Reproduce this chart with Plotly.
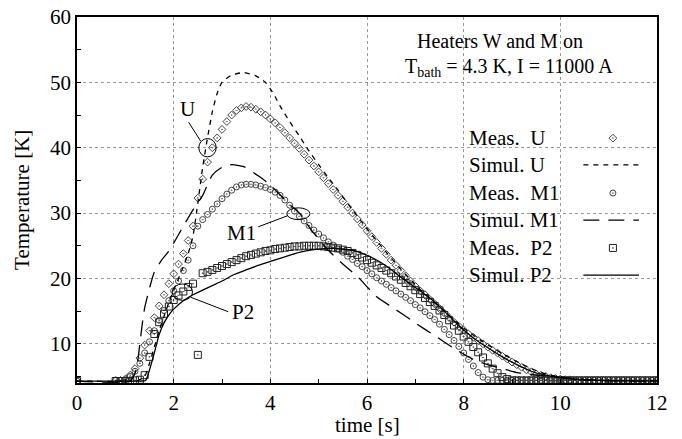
import plotly.graph_objects as go

# measured data (sampled every 0.1 s after the heater fires, plus t = 0)
t_meas = [0,
          0.8, 0.9, 1.0, 1.1, 1.2, 1.3, 1.4, 1.5, 1.6, 1.7,
          1.8, 1.9, 2.0, 2.1, 2.2, 2.3, 2.4, 2.5, 2.6, 2.7,
          2.8, 2.9, 3.0, 3.1, 3.2, 3.3, 3.4, 3.5, 3.6, 3.7,
          3.8, 3.9, 4.0, 4.1, 4.2, 4.3, 4.4, 4.5, 4.6, 4.7,
          4.8, 4.9, 5.0, 5.1, 5.2, 5.3, 5.4, 5.5, 5.6, 5.7,
          5.8, 5.9, 6.0, 6.1, 6.2, 6.3, 6.4, 6.5, 6.6, 6.7,
          6.8, 6.9, 7.0, 7.1, 7.2, 7.3, 7.4, 7.5, 7.6, 7.7,
          7.8, 7.9, 8.0, 8.1, 8.2, 8.3, 8.4, 8.5, 8.6, 8.7,
          8.8, 8.9, 9.0, 9.1, 9.2, 9.3, 9.4, 9.5, 9.6, 9.7,
          9.8, 9.9, 10.0, 10.1, 10.2, 10.3, 10.4, 10.5, 10.6, 10.7,
          10.8, 10.9, 11.0, 11.1, 11.2, 11.3, 11.4, 11.5, 11.6, 11.7,
          11.8, 11.9, 12.0]

meas_u = [4.3,
          4.4, 4.4, 4.6, 5.2, 6.2, 7.8, 9.8, 12.0, 14.0, 15.8,
          17.5, 19.2, 20.7, 22.2, 23.8, 25.8, 28.0, 32.3, 35.2, 37.8,
          40.0, 41.5, 42.8, 44.0, 45.0, 45.7, 46.1, 46.3, 46.2, 45.9,
          45.5, 45.0, 44.4, 43.8, 43.1, 42.3, 41.5, 40.7, 39.9, 39.0,
          38.1, 37.2, 36.3, 35.4, 34.5, 33.6, 32.7, 31.8, 30.9, 30.0,
          29.1, 28.2, 27.3, 26.4, 25.5, 24.6, 23.7, 22.8, 22.0, 21.2,
          20.4, 19.6, 18.8, 18.1, 17.5, 16.8, 16.1, 15.4, 14.7, 14.0,
          13.3, 12.7, 12.1, 11.5, 11.0, 10.5, 10.0, 9.5, 9.0, 8.6,
          8.1, 7.7, 7.2, 6.8, 6.4, 6.0, 5.7, 5.4, 5.2, 5.0,
          4.8, 4.7, 4.6, 4.5, 4.5, 4.4, 4.4, 4.4, 4.4, 4.4,
          4.4, 4.4, 4.4, 4.4, 4.4, 4.4, 4.4, 4.4, 4.4, 4.4,
          4.4, 4.4, 4.4]

meas_m1 = [4.3,
           4.4, 4.4, 4.5, 5.0, 5.8, 7.0, 8.6, 10.3, 12.0, 13.6,
           15.1, 16.6, 18.1, 19.6, 21.2, 22.8, 25.0, 28.0, 29.0, 29.8,
           30.6, 31.4, 32.2, 32.9, 33.5, 34.0, 34.3, 34.4, 34.4, 34.3,
           34.1, 33.9, 33.6, 33.2, 32.7, 32.0, 31.2, 30.3, 29.5, 28.8,
           28.1, 27.4, 26.8, 26.2, 25.6, 25.1, 24.5, 24.0, 23.4, 22.9,
           22.3, 21.8, 21.2, 20.7, 20.1, 19.6, 19.1, 18.6, 18.1, 17.6,
           17.1, 16.6, 16.0, 15.5, 14.9, 14.3, 13.7, 13.0, 12.2, 11.4,
           10.5, 9.6, 8.6, 7.6, 6.6, 5.6, 4.9, 4.5, 4.4, 4.4,
           4.4, 4.4, 4.4, 4.4, 4.4, 4.4, 4.4, 4.4, 4.4, 4.4,
           4.4, 4.4, 4.4, 4.4, 4.4, 4.4, 4.4, 4.4, 4.4, 4.4,
           4.4, 4.4, 4.4, 4.4, 4.4, 4.4, 4.4, 4.4, 4.4, 4.4,
           4.4, 4.4, 4.4]

meas_p2 = [4.3,
           4.3, 4.3, 4.3, 4.3, 4.4, 4.5, 5.2, 8.0, 11.5, 13.3,
           14.6, 15.7, 16.7, 17.4, 18.0, 18.7, 19.2, 8.3, 20.8, 21.0,
           21.3, 21.6, 21.9, 22.2, 22.5, 22.8, 23.1, 23.4, 23.6, 23.8,
           24.0, 24.2, 24.3, 24.5, 24.6, 24.7, 24.8, 24.9, 24.9, 25.0,
           25.0, 25.0, 25.0, 24.9, 24.8, 24.7, 24.6, 24.4, 24.2, 23.9,
           23.6, 23.2, 22.8, 22.4, 22.0, 21.6, 21.2, 20.8, 20.3, 19.8,
           19.3, 18.8, 18.2, 17.6, 17.0, 16.4, 15.8, 15.1, 14.4, 13.6,
           12.8, 12.0, 11.1, 10.3, 9.5, 8.7, 7.9, 7.0, 6.2, 5.5,
           4.9, 4.6, 4.4, 4.4, 4.4, 4.4, 4.4, 4.4, 4.4, 4.4,
           4.4, 4.4, 4.4, 4.4, 4.4, 4.4, 4.4, 4.4, 4.4, 4.4,
           4.4, 4.4, 4.4, 4.4, 4.4, 4.4, 4.4, 4.4, 4.4, 4.4,
           4.4, 4.4, 4.4]

# simulations
t_sim_u = [0, 1.2, 1.3, 1.4, 1.5, 1.6, 1.7, 1.8, 1.9, 2.0,
           2.1, 2.2, 2.3, 2.4, 2.5, 2.6, 2.7, 2.8, 2.9, 3.0,
           3.2, 3.45, 3.7, 3.9, 4.0, 4.1, 4.2, 4.4, 4.6, 4.8,
           5.0, 5.2, 5.4, 5.7, 6.0, 6.4, 6.8, 7.2, 7.6, 8.0,
           8.4, 8.8, 9.2, 9.6, 10.0, 10.5, 11.0, 12.0]
sim_u = [4.3, 4.3, 4.5, 5.0, 7.0, 9.5, 12.0, 14.2, 16.3, 18.2,
         20.0, 21.8, 23.8, 26.5, 31.5, 37.0, 41.5, 45.5, 48.3, 50.0,
         51.1, 51.5, 51.0, 50.0, 49.0, 47.8, 46.4, 44.0, 41.8, 39.5,
         37.4, 35.4, 33.5, 30.5, 27.6, 24.0, 20.6, 17.6, 15.0, 12.4,
         10.3, 8.5, 6.9, 5.6, 4.9, 4.5, 4.35, 4.3]

t_sim_m1 = [0, 1.1, 1.2, 1.25, 1.3, 1.35, 1.4, 1.5, 1.6, 1.75,
            1.9, 2.0, 2.2, 2.4, 2.6, 2.8, 3.0, 3.2, 3.45, 3.75,
            4.0, 4.2, 4.4, 4.6, 4.85, 5.2, 5.5, 5.8, 6.2, 6.5,
            6.9, 7.2, 7.45, 7.8, 8.2, 8.5, 8.8, 9.1, 9.4, 9.7,
            10.0, 10.5, 11.0, 12.0]
sim_m1 = [4.3, 4.3, 5.5, 7.0, 10.0, 13.0, 15.5, 18.5, 21.0, 22.8,
          24.2, 25.4, 28.0, 30.5, 32.7, 35.8, 37.0, 37.4, 37.1, 35.7,
          34.3, 32.8, 31.3, 30.0, 27.4, 24.3, 22.2, 20.3, 17.2, 15.7,
          13.7, 12.2, 11.0, 9.3, 7.6, 6.8, 6.2, 5.6, 5.3, 5.1,
          4.9, 4.5, 4.35, 4.3]

t_sim_p2 = [0, 1.3, 1.42, 1.5, 1.6, 1.7, 1.8, 1.9, 2.0, 2.2,
            2.4, 2.6, 2.8, 3.0, 3.25, 3.5, 3.75, 4.0, 4.3, 4.6,
            4.9, 5.2, 5.5, 5.8, 6.1, 6.4, 6.7, 7.0, 7.3, 7.6,
            7.9, 8.2, 8.5, 8.8, 9.1, 9.4, 9.7, 10.0, 10.5, 11.0,
            12.0]
sim_p2 = [4.3, 4.3, 4.4, 6.0, 8.6, 11.4, 13.2, 14.4, 15.3, 16.6,
          17.5, 18.2, 18.9, 19.6, 20.6, 21.3, 22.0, 22.6, 23.3, 24.0,
          24.4, 24.6, 24.5, 24.1, 23.2, 21.9, 20.2, 18.6, 17.0, 15.0,
          12.8, 10.9, 9.4, 8.0, 6.8, 5.8, 5.2, 4.8, 4.5, 4.35,
          4.3]

legend_labels = ["Meas.\u00a0 U", "Simul. U", "Meas.\u00a0 M1",
                 "Simul. M1", "Meas.\u00a0 P2", "Simul. P2"]

FONT = "Liberation Serif"
FS = 21
marker_styles = {
    "U": dict(symbol="diamond-open-dot", size=6, color="#444", line=dict(width=1, color="#444")),
    "M1": dict(symbol="circle-open-dot", size=6, color="#444", line=dict(width=1, color="#444")),
    "P2": dict(symbol="square-open-dot", size=7, color="#222", line=dict(width=1, color="#222")),
}
line_styles = {
    "U": dict(color="black", width=1.3, dash="5px,5px"),
    "M1": dict(color="black", width=1.3, dash="16px,9px"),
    "P2": dict(color="black", width=1.3),
}

fig = go.Figure()

# measurements
for key, yv in [("U", meas_u), ("M1", meas_m1), ("P2", meas_p2)]:
    fig.add_trace(go.Scatter(x=t_meas, y=yv, mode="markers",
                             marker=marker_styles[key], name="Meas. " + key))

# simulations
for key, tv, yv in [("U", t_sim_u, sim_u), ("M1", t_sim_m1, sim_m1), ("P2", t_sim_p2, sim_p2)]:
    fig.add_trace(go.Scatter(x=tv, y=yv, mode="lines", line_shape="spline",
                             line=dict(**line_styles[key], smoothing=0.6),
                             name="Simul. " + key))

# hand-made legend (text on the left, key on the right) on a hidden overlay axis
row_y = [0.669, 0.596, 0.519, 0.445, 0.369, 0.295]
keys = ["U", "U", "M1", "M1", "P2", "P2"]
for i, (lab, key) in enumerate(zip(legend_labels, keys)):
    if i % 2 == 0:
        fig.add_trace(go.Scatter(x=[0.924], y=[row_y[i]], mode="markers",
                                 marker=marker_styles[key], xaxis="x2", yaxis="y2",
                                 hoverinfo="skip"))
    else:
        fig.add_trace(go.Scatter(x=[0.873, 0.969], y=[row_y[i], row_y[i]], mode="lines",
                                 line=line_styles[key], xaxis="x2", yaxis="y2",
                                 hoverinfo="skip"))
    fig.add_annotation(text=lab, xref="paper", yref="paper", x=0.672, y=row_y[i],
                       xanchor="left", yanchor="middle", showarrow=False,
                       font=dict(family=FONT, size=FS, color="black"))

shapes = [
    # white boxes behind the title text and legend
    dict(type="rect", xref="paper", yref="paper", x0=0.515, x1=0.998, y0=0.822, y1=0.997,
         fillcolor="white", line=dict(width=0), layer="between"),
    dict(type="rect", xref="paper", yref="paper", x0=0.669, x1=0.998, y0=0.24, y1=0.724,
         fillcolor="white", line=dict(width=0), layer="between"),
    # U marker circle + leader
    dict(type="circle", xref="x", yref="y", x0=2.52, x1=2.88, y0=38.6, y1=41.4,
         line=dict(color="black", width=1)),
    dict(type="line", xref="x", yref="y", x0=2.31, y0=43.9, x1=2.56, y1=41.0,
         line=dict(color="black", width=1)),
    # M1 ellipse + leader
    dict(type="circle", xref="x", yref="y", x0=4.34, x1=4.82, y0=29.0, y1=30.8,
         line=dict(color="black", width=1)),
    dict(type="line", xref="x", yref="y", x0=3.75, y0=27.9, x1=4.36, y1=29.6,
         line=dict(color="black", width=1)),
    # P2 ellipse + leader
    dict(type="circle", xref="x", yref="y", x0=1.97, x1=2.39, y0=16.65, y1=19.15,
         line=dict(color="black", width=1)),
    dict(type="line", xref="x", yref="y", x0=3.13, y0=14.9, x1=2.36, y1=17.1,
         line=dict(color="black", width=1)),
]

annotations_txt = [
    dict(text="U", x=2.28, y=45.9),
    dict(text="M1", x=3.4, y=26.9),
    dict(text="P2", x=3.44, y=14.8),
]
for a in annotations_txt:
    fig.add_annotation(text=a["text"], x=a["x"], y=a["y"], xref="x", yref="y",
                       showarrow=False, font=dict(family=FONT, size=FS, color="black"))

fig.add_annotation(text="Heaters W and M on", xref="paper", yref="paper", x=0.730, y=0.934,
                   xanchor="center", yanchor="middle",
                   showarrow=False, font=dict(family=FONT, size=20, color="black"))
fig.add_annotation(text="T<sub>bath</sub> = 4.3 K, I = 11000 A", xref="paper", yref="paper",
                   x=0.744, y=0.862, xanchor="center", yanchor="middle", showarrow=False,
                   font=dict(family=FONT, size=20, color="black"))

# axis titles as annotations so their position can be set exactly
fig.add_annotation(text="time [s]", xref="paper", yref="paper", x=0.5, y=-0.115,
                   xanchor="center", yanchor="middle", showarrow=False,
                   font=dict(family=FONT, size=FS, color="black"))
fig.add_annotation(text="Temperature [K]", xref="paper", yref="paper", x=-0.095, y=0.5,
                   xanchor="center", yanchor="middle", textangle=-90, showarrow=False,
                   font=dict(family=FONT, size=FS, color="black"))

axis_common = dict(
    showline=True, linecolor="black", linewidth=1.5, mirror=True,
    showgrid=True, gridcolor="#999", gridwidth=1, griddash="dot",
    zeroline=False, ticks="inside", ticklen=4, tickcolor="black",
    automargin=False,
    tickfont=dict(family=FONT, size=FS, color="black"),
)

fig.update_layout(
    width=682, height=439,
    margin=dict(l=77, r=25, t=17, b=56),
    plot_bgcolor="white", paper_bgcolor="white",
    showlegend=False,
    font=dict(family=FONT, size=FS, color="black"),
    shapes=shapes,
    xaxis=dict(range=[0, 12], tick0=0, dtick=2,
               minor=dict(dtick=1, ticks="inside", ticklen=4, showgrid=False),
               **axis_common),
    yaxis=dict(range=[4, 60], tick0=0, dtick=10,
               minor=dict(dtick=5, ticks="inside", ticklen=4, showgrid=False),
               **axis_common),
    xaxis2=dict(overlaying="x", range=[0, 1], visible=False),
    yaxis2=dict(overlaying="y", range=[0, 1], visible=False),
)

# page body has a default 8px margin; drop it so the figure fills the window
fig.write_html("out.html", config={"displayModeBar": False},
               post_script="document.body.style.margin='0';")
